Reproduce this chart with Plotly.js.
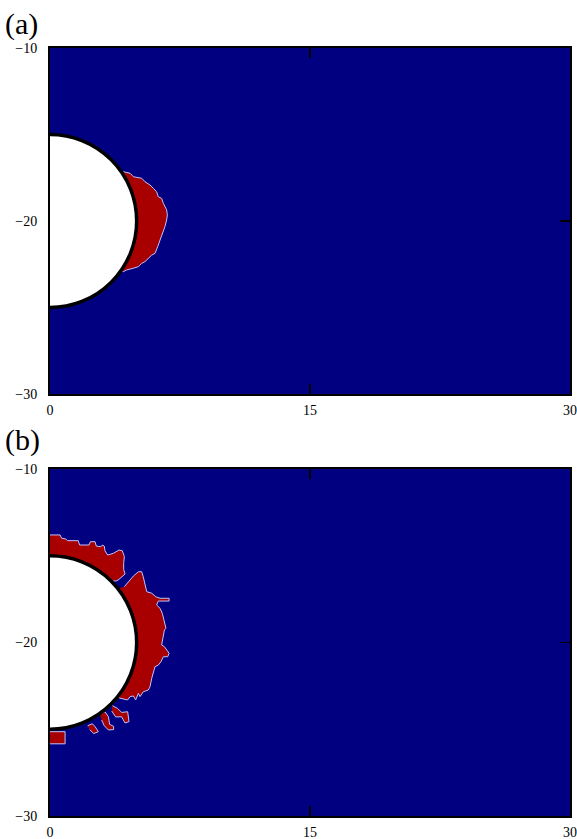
<!DOCTYPE html>
<html>
<head>
<meta charset="utf-8">
<script src="https://cdn.plot.ly/plotly-3.0.1.min.js"></script>
<style>html,body{margin:0;padding:0;background:#fff;}#chart{width:577px;height:839px;}</style>
</head>
<body>
<div id="chart"></div>
<script>
// ---- axis ticks ----
const xTicks = [0, 15, 30];
const yTicks = [-30, -20, -10];
const xRange = [0, 30];
const yRange = [-30, -10];

// ---- obstacle (half disk) ----
const diskCenter = [0, -20];
const diskRadius = 5;

// ---- panel (a): red region boundary ----
const aRedX = [4.23, 4.62, 4.81, 5.29, 5.48, 5.77, 5.96, 6.15, 6.25, 6.44, 6.54, 6.63, 6.73, 6.77, 6.73, 6.63, 6.54, 6.44, 6.35, 6.25, 6.15, 6.06, 5.87, 5.67, 5.48, 5.29, 5.10, 4.81, 4.42, 4.23, 0];
const aRedY = [-17.15, -17.24, -17.44, -17.53, -17.73, -17.92, -18.11, -18.31, -18.60, -18.69, -18.98, -19.17, -19.36, -19.65, -19.94, -20.33, -20.62, -20.81, -21.10, -21.39, -21.68, -21.87, -21.97, -22.16, -22.35, -22.45, -22.64, -22.73, -22.83, -22.93, -20];

// ---- panel (b): red regions ----
const bUpperX = [0, 0.58, 0.67, 0.90, 1.02, 1.63, 1.71, 2.25, 2.33, 2.60, 2.67, 2.94, 3.02, 3.13, 3.17, 3.33, 3.65, 3.98, 4.17, 4.29, 4.25, 4.25, 4.33, 4.17, 3.98, 3.85, 3.3, 0];
const bUpperY = [-13.80, -13.80, -13.99, -14.03, -14.13, -14.13, -14.38, -14.38, -14.19, -14.19, -14.44, -14.48, -14.38, -14.44, -14.71, -14.96, -14.86, -14.67, -14.71, -15.05, -15.44, -15.78, -16.05, -16.21, -16.36, -16.44, -16.5, -20];

const bMainX = [4.29, 4.62, 4.81, 5.10, 5.29, 5.38, 5.48, 5.58, 5.87, 6.10, 6.35, 6.87, 6.87, 6.25, 6.15, 6.35, 6.48, 6.54, 6.63, 6.69, 6.60, 6.54, 6.44, 6.60, 6.87, 6.79, 6.54, 6.40, 6.25, 6.06, 5.96, 5.87, 5.77, 5.67, 5.38, 5.19, 5.10, 4.94, 4.81, 4.62, 4.48, 4.0, 3.5, 3.0, 3.5];
const bMainY = [-16.78, -16.40, -16.17, -15.92, -15.92, -16.21, -16.59, -17.07, -17.16, -17.36, -17.45, -17.45, -17.61, -17.61, -17.84, -18.03, -18.32, -18.55, -18.80, -19.18, -19.28, -19.67, -20.14, -20.24, -20.62, -20.82, -20.82, -21.11, -21.30, -21.39, -21.68, -22.06, -22.55, -22.74, -22.84, -23.12, -22.93, -23.31, -23.08, -23.12, -23.31, -23.2, -22.5, -20, -17];

const bFrag1X = [3.60, 3.90, 4.13, 4.48, 4.56, 4.33, 4.13, 3.79, 3.56];
const bFrag1Y = [-23.64, -23.80, -24.03, -23.99, -24.56, -24.64, -24.28, -24.29, -23.95];

const bFrag2X = [2.88, 3.17, 3.37, 3.44, 3.67, 3.67, 3.37, 3.13, 2.98];
const bFrag2Y = [-24.08, -23.99, -24.28, -24.72, -24.83, -25.02, -25.04, -24.80, -24.47];

const bFrag3X = [2.17, 2.44, 2.60, 2.79, 2.52, 2.29];
const bFrag3Y = [-24.80, -24.68, -24.85, -25.14, -25.25, -25.02];

const bFrag4X = [0, 0.87, 0.87, 0];
const bFrag4Y = [-25.14, -25.14, -25.84, -25.84];

// ---- styles ----
const NAVY = '#000080';
const RED = '#a80000';
const EDGE = 'rgba(190,195,255,1)';
const FONT = 'Liberation Serif, Times New Roman, serif';

function region(x, y, xa, ya) {
  return {
    type: 'scatter', mode: 'lines', x: x, y: y,
    xaxis: xa, yaxis: ya,
    fill: 'toself', fillcolor: RED,
    line: {color: EDGE, width: 1},
    hoverinfo: 'skip', showlegend: false
  };
}

const traces = [
  region(aRedX, aRedY, 'x', 'y'),
  region(bUpperX, bUpperY, 'x2', 'y2'),
  region(bMainX, bMainY, 'x2', 'y2'),
  region(bFrag1X, bFrag1Y, 'x2', 'y2'),
  region(bFrag2X, bFrag2Y, 'x2', 'y2'),
  region(bFrag3X, bFrag3Y, 'x2', 'y2'),
  region(bFrag4X, bFrag4Y, 'x2', 'y2')
];

function xax(anchor) {
  return {
    anchor: anchor, range: xRange, tickmode: 'array', tickvals: xTicks,
    ticks: 'inside', ticklen: 10, tickwidth: 1.5, tickcolor: '#000',
    showline: true, linecolor: '#000', linewidth: 2, mirror: 'ticks',
    showgrid: false, zeroline: false, ticklabelstandoff: 2,
    tickfont: {family: FONT, size: 14, color: '#000'}
  };
}
function yax(anchor, domain) {
  return {
    anchor: anchor, domain: domain, range: yRange, tickmode: 'array', tickvals: yTicks,
    ticks: 'inside', ticklen: 10, tickwidth: 1.5, tickcolor: '#000',
    showline: true, linecolor: '#000', linewidth: 2, mirror: 'ticks',
    showgrid: false, zeroline: false, ticklabelstandoff: 8,
    tickfont: {family: FONT, size: 14, color: '#000'}
  };
}

function disk(xr, yr) {
  return {
    type: 'circle', xref: xr, yref: yr, layer: 'above',
    x0: diskCenter[0] - diskRadius, x1: diskCenter[0] + diskRadius,
    y0: diskCenter[1] - diskRadius, y1: diskCenter[1] + diskRadius,
    fillcolor: '#ffffff', line: {color: '#000', width: 3.5}
  };
}

const layout = {
  width: 577, height: 839,
  margin: {l: 50, r: 7, t: 48, b: 23},
  paper_bgcolor: '#fff', plot_bgcolor: NAVY,
  showlegend: false,
  xaxis: xax('y'),
  yaxis: yax('x', [0.5495, 1]),
  xaxis2: xax('y2'),
  yaxis2: yax('x2', [0, 0.4518]),
  shapes: [disk('x', 'y'), disk('x2', 'y2')],
  annotations: [
    {text: '(a)', xref: 'paper', yref: 'paper', x: -0.09, y: 1.031, xanchor: 'left', yanchor: 'middle', showarrow: false, font: {family: FONT, size: 30, color: '#000'}},
    {text: '(b)', xref: 'paper', yref: 'paper', x: -0.09, y: 0.4896, xanchor: 'left', yanchor: 'middle', showarrow: false, font: {family: FONT, size: 30, color: '#000'}}
  ]
};

Plotly.newPlot('chart', traces, layout, {staticPlot: true, displayModeBar: false});
</script>
</body>
</html>
